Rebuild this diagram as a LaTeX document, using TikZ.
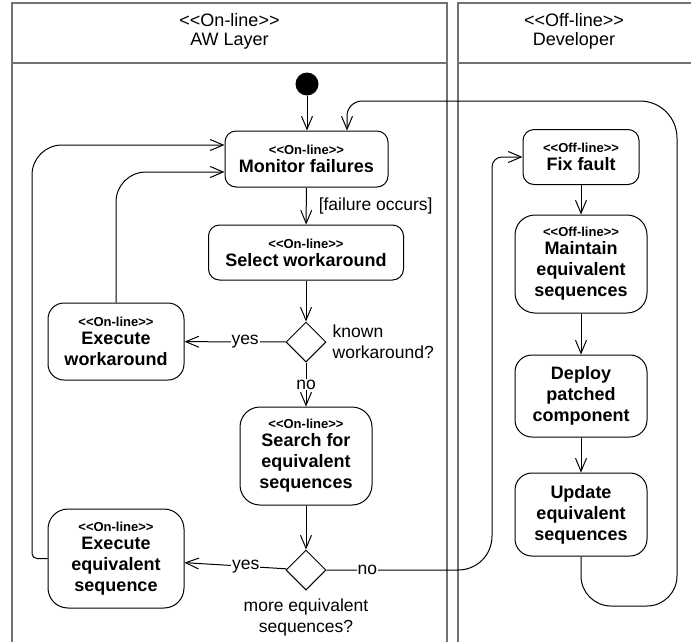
\documentclass[tikz,border=0pt]{standalone}
\usepackage{fontspec}
\newfontfamily\lsans{Liberation Sans}
\usetikzlibrary{shapes.geometric,arrows.meta,calc}
\newcommand\stereo[1]{{\fontsize{13}{18}\selectfont #1}}
\begin{document}
\begin{tikzpicture}[x=1pt,y=-1pt,
  lane/.style={draw=black!55, line width=1.3pt},
  act/.style={draw, line width=1pt, align=center, inner sep=0pt, font=\lsans\fontsize{18}{21}\selectfont\bfseries},
  dec/.style={draw, diamond, line width=1pt, minimum width=40pt, minimum height=40pt, inner sep=0pt},
  flow/.style={draw, line width=1pt, -{Straight Barb[length=13pt,width=11pt]}},
  lbl/.style={font=\lsans\fontsize{17.5}{21}\selectfont, inner sep=1pt},
  onlbl/.style={lbl, fill=white},
  hdr/.style={font=\lsans\fontsize{18}{19}\selectfont, align=center, inner sep=0pt},
]
\useasboundingbox (0,0) rectangle (691,641);
\clip (0,0) rectangle (691,641);

% swimlanes
\draw[lane] (12,700) -- (12,3) -- (447,3) -- (447,700);
\draw[lane] (12,63) -- (447,63);
\draw[lane] (458,700) -- (458,3) -- (700,3);
\draw[lane] (458,63) -- (700,63);
\node[hdr] (h1) at (229.5,31) {<<On-line>>\\AW Layer};
\node[hdr] (h2) at (574,31) {<<Off-line>>\\Developer};

% nodes
\node[circle, fill=black, minimum size=23pt, inner sep=0pt] (init) at (307,84) {};
\node[act, minimum width=163pt, minimum height=56pt, rounded corners=11pt] (mon) at (306.5,159)
  {\stereo{<<On-line>>}\\[-3pt]Monitor failures};
\node[act, minimum width=195pt, minimum height=55pt, rounded corners=11pt] (sel) at (306,252.5)
  {\stereo{<<On-line>>}\\[-3pt]Select workaround};
\node[dec] (d1) at (306,342) {};
\node[act, minimum width=136pt, minimum height=77pt, rounded corners=16pt] (exw) at (116,341.5)
  {\stereo{<<On-line>>}\\[-3pt]Execute\\workaround};
\node[act, minimum width=132pt, minimum height=98pt, rounded corners=20pt] (srch) at (306,456)
  {\stereo{<<On-line>>}\\[-3pt]Search for\\equivalent\\sequences};
\node[dec] (d2) at (306,570) {};
\node[act, minimum width=136pt, minimum height=99pt, rounded corners=20pt] (exe) at (116,558.5)
  {\stereo{<<On-line>>}\\[-3pt]Execute\\equivalent\\sequence};
\node[act, minimum width=116pt, minimum height=55pt, rounded corners=11pt] (fix) at (581,157)
  {\stereo{<<Off-line>>}\\[-3pt]Fix fault};
\node[act, minimum width=132pt, minimum height=98pt, rounded corners=20pt] (mnt) at (581,264)
  {\stereo{<<Off-line>>}\\[-3pt]Maintain\\equivalent\\sequences};
\node[act, minimum width=132pt, minimum height=82pt, rounded corners=17pt] (dep) at (581,396)
  {Deploy\\patched\\component};
\node[act, minimum width=132pt, minimum height=83pt, rounded corners=17pt] (upd) at (581,514.5)
  {Update\\equivalent\\sequences};

% labels
\node[lbl, anchor=west, align=left] (kw) at ($(d1.east)+(5,0)$) {known\\workaround?};
\node[lbl, align=center] (mes) at (306,617) {more equivalent\\sequences?};

% connectors
\draw[flow] (init) -- (init |- mon.north);
\draw[flow] (mon) -- node[lbl, anchor=west, xshift=11pt]{[failure occurs]} (sel);
\draw[flow] (sel) -- (d1);
\draw[flow] (d1) -- node[onlbl, pos=0.4]{yes} (exw);
\draw[flow] (d1) -- node[onlbl, pos=0.5]{no} (srch);
\draw[flow] (srch) -- (d2);
\draw[flow] (d2) -- node[onlbl, pos=0.4]{yes} (exe);

% no -> fix fault
\coordinate (c1) at (458,570);
\draw[flow] (d2.east) -- node[onlbl, pos=0.31]{no} (c1)
  .. controls (477,570) and (492,555) .. (492,536) -- (492,167)
  .. controls (492,161.5) and (496.5,157) .. (502,157) -- (fix.west);

% off-line chain
\draw[flow] (fix) -- (mnt);
\draw[flow] (mnt) -- (dep);
\draw[flow] (dep) -- (upd);

% loop back from update to monitor
\coordinate (lp) at (347,101);
\draw[flow] (upd.south) -- (581,576)
  .. controls (581,592.5) and (594.5,606) .. (611,606) -- (647,606)
  .. controls (663.5,606) and (677,592.5) .. (677,576) -- (677,138)
  .. controls (677,117.5) and (660.5,101) .. (640,101) -- (362,101)
  .. controls (353.7,101) and (347,107.7) .. (347,116) -- (mon.north -| lp);

% outer loop from execute equivalent sequence
\coordinate (m1) at ($(mon.west)+(0,-14)$);
\coordinate (m2) at ($(mon.west)+(0,13)$);
\draw[flow] (exe.west) -- (37,558.5)
  .. controls (34.2,558.5) and (32,556.3) .. (32,553.5) -- (32,175)
  .. controls (32,158.4) and (45.4,145) .. (62,145) -- (m1);
% inner loop from execute workaround
\draw[flow] (exw.north) -- (116,202)
  .. controls (116,185.4) and (129.4,172) .. (146,172) -- (m2);
\end{tikzpicture}
\end{document}
